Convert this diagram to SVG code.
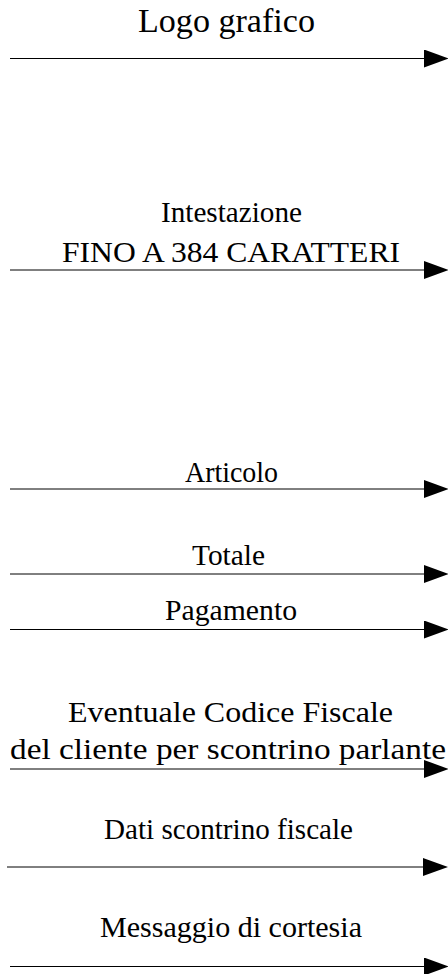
<svg xmlns="http://www.w3.org/2000/svg" width="448" height="974" viewBox="0 0 448 974">
<style>
text{font-family:"Liberation Serif","Times New Roman",serif;fill:#000}
.t{font-size:30px}
.c line{stroke:#000;stroke-width:1;fill:none}
</style>
<defs>
<marker id="ah" markerUnits="userSpaceOnUse" markerWidth="26" markerHeight="18" refX="0" refY="9" orient="auto">
<path d="M0,0 L25,9 L0,18 Z" fill="#000"/>
</marker>
</defs>
<rect width="448" height="974" fill="#fff"/>
<g class="c" id="connectors">
<line x1="10" y1="58.5" x2="424" y2="58.5" marker-end="url(#ah)"/>
<line x1="10" y1="270" x2="424" y2="270" marker-end="url(#ah)"/>
<line x1="10" y1="489" x2="424" y2="489" marker-end="url(#ah)"/>
<line x1="10" y1="574" x2="424" y2="574" marker-end="url(#ah)"/>
<line x1="10" y1="629.5" x2="424" y2="629.5" marker-end="url(#ah)"/>
<line x1="10" y1="769" x2="424" y2="769" marker-end="url(#ah)"/>
<line x1="7" y1="867" x2="423" y2="867" marker-end="url(#ah)"/>
<line x1="10" y1="966.5" x2="424" y2="966.5" marker-end="url(#ah)"/>
</g>
<g id="logo"><text x="138" y="32" font-size="33" textLength="177" lengthAdjust="spacingAndGlyphs">Logo grafico</text></g>
<g id="intestazione">
<text class="t" x="161" y="221.7" textLength="141" lengthAdjust="spacingAndGlyphs">Intestazione</text>
<text x="62" y="261.7" font-size="29" textLength="338" lengthAdjust="spacingAndGlyphs">FINO A 384 CARATTERI</text>
</g>
<g id="articolo"><text class="t" x="185" y="481.7" textLength="93" lengthAdjust="spacingAndGlyphs">Articolo</text></g>
<g id="totale"><text class="t" x="192" y="565" textLength="73" lengthAdjust="spacingAndGlyphs">Totale</text></g>
<g id="pagamento"><text class="t" x="165" y="620" textLength="132" lengthAdjust="spacingAndGlyphs">Pagamento</text></g>
<g id="codice-fiscale">
<text class="t" x="68" y="721.7" textLength="325" lengthAdjust="spacingAndGlyphs">Eventuale Codice Fiscale</text>
<text class="t" x="10" y="759.3" textLength="436" lengthAdjust="spacingAndGlyphs">del cliente per scontrino parlante</text>
</g>
<g id="dati"><text x="104" y="839" font-size="29" textLength="249" lengthAdjust="spacingAndGlyphs">Dati scontrino fiscale</text></g>
<g id="messaggio"><text class="t" x="100" y="937.3" textLength="262" lengthAdjust="spacingAndGlyphs">Messaggio di cortesia</text></g>
</svg>
